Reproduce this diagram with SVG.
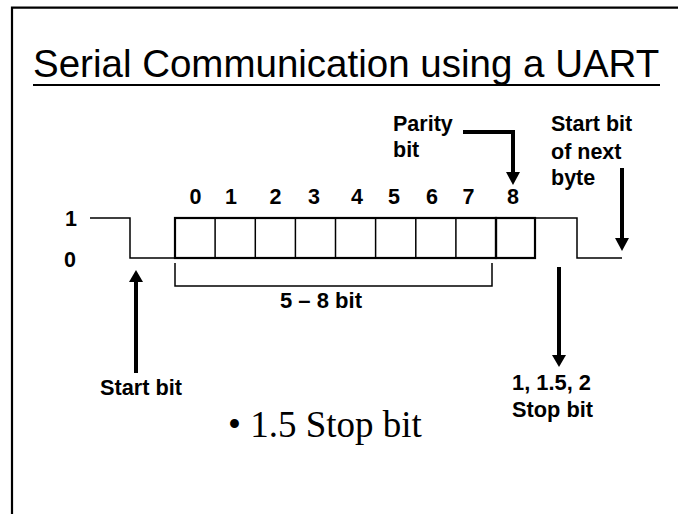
<svg xmlns="http://www.w3.org/2000/svg" width="678" height="514" viewBox="0 0 678 514">
<style>
.lbl{font-family:"Liberation Sans",Arial,sans-serif;font-weight:bold;font-size:21.5px;fill:#000}
.thin{fill:none;stroke:#000;stroke-width:1.5}
.thick{fill:none;stroke:#000;stroke-width:2.2}
.arr{fill:none;stroke:#000;stroke-width:4}
.head{fill:#000;stroke:none}
</style>
<rect width="678" height="514" fill="#fff"/>
<path d="M12,514 V7.7 H678" fill="none" stroke="#000" stroke-width="2.2"/>
<g id="title">
<text x="33" y="77" font-family="'Liberation Sans',Arial,sans-serif" font-size="38.5">Serial Communication using a UART</text>
<line x1="33" y1="85" x2="660" y2="85" stroke="#000" stroke-width="2"/>
</g>
<g id="levels">
<text class="lbl" x="65" y="226">1</text>
<text class="lbl" x="64" y="267">0</text>
</g>
<g id="signal">
<polyline class="thin" points="90,218 130,218 130,258 175,258"/>
<polyline class="thin" points="535,218 577,218 577,258 622,258"/>
</g>
<g id="data-bits">
<rect class="thick" x="175" y="218" width="321" height="40"/>
<path class="thin" d="M215.1,218V258M255.3,218V258M295.4,218V258M335.5,218V258M375.6,218V258M415.8,218V258M455.9,218V258"/>
<g text-anchor="middle">
<text class="lbl" x="195.5" y="204">0</text>
<text class="lbl" x="231" y="204">1</text>
<text class="lbl" x="275.5" y="204">2</text>
<text class="lbl" x="314" y="204">3</text>
<text class="lbl" x="357" y="204">4</text>
<text class="lbl" x="394" y="204">5</text>
<text class="lbl" x="432" y="204">6</text>
<text class="lbl" x="468.5" y="204">7</text>
<text class="lbl" x="513" y="204">8</text>
</g>
</g>
<g id="parity-bit">
<rect class="thick" x="496" y="218" width="39" height="40"/>
</g>
<g id="bracket">
<polyline class="thin" points="175,263 175,286 492,286 492,263"/>
<text class="lbl" x="280" y="308" textLength="82" lengthAdjust="spacingAndGlyphs">5 – 8 bit</text>
</g>
<g id="parity-label">
<text class="lbl" x="393" y="131">Parity</text>
<text class="lbl" x="393" y="157">bit</text>
</g>
<g id="next-start-label">
<text class="lbl" x="551" y="131">Start bit</text>
<text class="lbl" x="551" y="159">of next</text>
<text class="lbl" x="551" y="185">byte</text>
</g>
<g id="start-label">
<text class="lbl" x="100" y="395" textLength="82" lengthAdjust="spacingAndGlyphs">Start bit</text>
</g>
<g id="stop-label">
<text class="lbl" x="512" y="390" textLength="79" lengthAdjust="spacingAndGlyphs">1, 1.5, 2</text>
<text class="lbl" x="512" y="417" textLength="81" lengthAdjust="spacingAndGlyphs">Stop bit</text>
</g>
<g id="connectors">
<path class="arr" d="M463,132 H513 V173"/>
<polygon class="head" points="506,172 520,172 513,185"/>
<path class="arr" d="M622,168 V239"/>
<polygon class="head" points="615,238 629,238 622,251"/>
<path class="arr" d="M136,281 V373"/>
<polygon class="head" points="129,282 143,282 136,270"/>
<path class="arr" d="M559,267 V356"/>
<polygon class="head" points="552,355 566,355 559,367"/>
</g>
<g id="bullet">
<text x="228" y="437" font-family="'Liberation Serif','Times New Roman',serif" font-size="37">• 1.5 Stop bit</text>
</g>
</svg>
